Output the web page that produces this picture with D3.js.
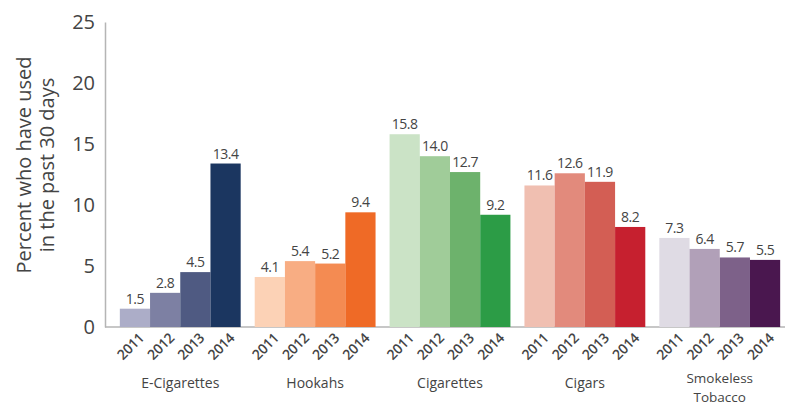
<!DOCTYPE html>
<html><head><meta charset="utf-8">
<script src="https://cdn.jsdelivr.net/npm/d3@7/dist/d3.min.js"></script>
<style>body{margin:0;background:#fff}svg{display:block}text{font-family:"Open Sans",sans-serif}</style>
</head><body>
<script>
const categories = ["E-Cigarettes","Hookahs","Cigarettes","Cigars","Smokeless Tobacco"];
const years = ["2011","2012","2013","2014"];
const eCigarettes = [1.5, 2.8, 4.5, 13.4];
const hookahs = [4.1, 5.4, 5.2, 9.4];
const cigarettes = [15.8, 14.0, 12.7, 9.2];
const cigars = [11.6, 12.6, 11.9, 8.2];
const smokeless = [7.3, 6.4, 5.7, 5.5];
const yTicks = [0, 5, 10, 15, 20, 25];
const palettes = [
  ["#acadc8","#7d80a3","#4f5a82","#1b3660"],
  ["#fcd2b6","#f8ad83","#f48b52","#ef6a26"],
  ["#cbe3c6","#a0cc99","#6db26c","#2c9c46"],
  ["#f0bfb1","#e28a7c","#d35e54","#c6202f"],
  ["#dfdbe4","#b1a0b8","#7d6189","#4a174f"]
];
const series = [eCigarettes, hookahs, cigarettes, cigars, smokeless];

const W = 785, H = 407;
const svg = d3.select("body").append("svg").attr("width", W).attr("height", H);

const y = d3.scaleLinear().domain([0, 25]).range([327, 22]);
const x0 = d3.scaleBand().domain(categories).range([105, 795]).paddingInner(0.104).paddingOuter(0.11);
const x1 = d3.scaleBand().domain(years).range([0, x0.bandwidth()]).padding(0);

// axes
const yAxis = d3.axisLeft(y).tickValues(yTicks).tickSize(0).tickPadding(10);
const gy = svg.append("g").attr("transform", "translate(105,0)").call(yAxis);
gy.select(".domain").attr("stroke", "#b5b5b5").attr("stroke-width", 1.5);
gy.selectAll("text").attr("font-size", 20).attr("fill", "#444");

svg.append("line").attr("x1", 105).attr("x2", 785).attr("y1", y(0)).attr("y2", y(0))
  .attr("stroke", "#b5b5b5").attr("stroke-width", 1.5);

// bars
const groups = svg.selectAll("g.grp").data(categories).join("g")
  .attr("class", "grp").attr("transform", d => `translate(${x0(d)},0)`);

groups.each(function(cat, ci) {
  const g = d3.select(this);
  const vals = series[ci];
  g.selectAll("rect").data(vals).join("rect")
    .attr("x", (d, i) => x1(years[i]))
    .attr("width", x1.bandwidth())
    .attr("y", d => y(d))
    .attr("height", d => y(0) - y(d))
    .attr("fill", (d, i) => palettes[ci][i]);
  g.selectAll("text.val").data(vals).join("text").attr("class", "val")
    .attr("x", (d, i) => x1(years[i]) + x1.bandwidth() / 2)
    .attr("y", d => y(d) - 5)
    .attr("text-anchor", "middle").attr("font-size", 14).attr("letter-spacing", -0.5)
    .attr("fill", "#444").text(d => d.toFixed(1));
  g.selectAll("text.yr").data(years).join("text").attr("class", "yr")
    .attr("transform", d => `translate(${x1(d) + x1.bandwidth() / 2 + 3},${y(0) + 5}) rotate(-45)`)
    .attr("text-anchor", "end").attr("dy", "0.7em").attr("font-size", 14).attr("font-weight", 600)
    .attr("letter-spacing", -0.3).attr("fill", "#444").text(d => d);
  const words = cat === "Smokeless Tobacco" ? ["Smokeless", "Tobacco"] : [cat];
  const baseY = words.length > 1 ? 383 : 388;
  words.forEach((w, wi) => {
    g.append("text").attr("x", x0.bandwidth() / 2).attr("y", baseY + wi * 18.5)
      .attr("text-anchor", "middle").attr("font-size", words.length > 1 ? 13.5 : 14)
      .attr("fill", "#444").text(w);
  });
});

// y title
const yt = svg.append("text").attr("transform", "translate(34,165) rotate(-90)")
  .attr("text-anchor", "middle").attr("font-size", 20).attr("fill", "#444");
yt.append("tspan").attr("x", 0).attr("dy", "-0.15em").text("Percent who have used");
yt.append("tspan").attr("x", 0).attr("dy", "1.15em").text("in the past 30 days");
</script>
</body></html>
